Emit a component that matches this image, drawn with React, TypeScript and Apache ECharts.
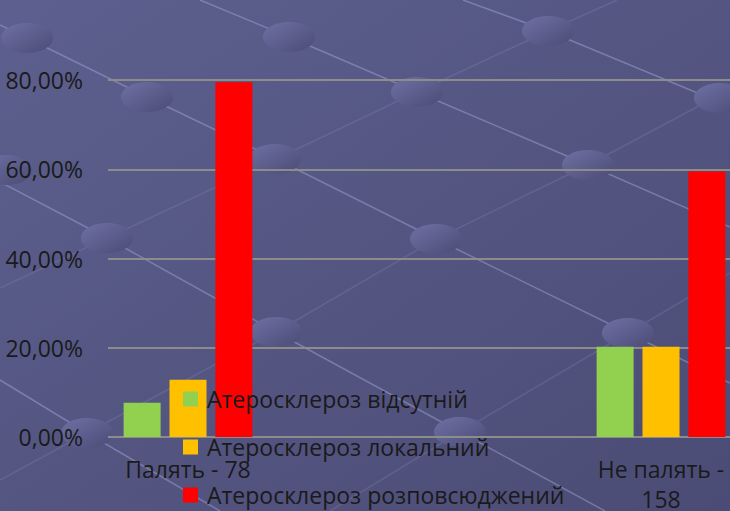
import React, { useEffect, useRef } from "react";
import * as echarts from "echarts";

const categories = ["Палять - 78", "Не палять -\n158"];
const seriesNames = [
  "Атеросклероз відсутній",
  "Атеросклероз локальний",
  "Атеросклероз розповсюджений",
];
const absentValues = [7.69, 20.25];
const localValues = [12.82, 20.25];
const widespreadValues = [79.49, 59.49];
const seriesColors = ["#92d050", "#ffc000", "#ff0000"];
const yMin = 0;
const yMax = 80;
const yStep = 20;

const FONT = "'Open Sans', 'Noto Sans', sans-serif";

const ellipseCenters: [number, number][] = [
  [27, 38], [289, 37], [548, 31],
  [147, 97], [417, 92], [720, 98],
  [6, 170], [275, 159], [588, 165],
  [107, 238], [436, 239],
  [276, 332], [628, 333],
  [87, 433], [460, 432],
];

const brightLines: number[][][] = [
  [[0, 25], [27, 38], [147, 97], [276, 159], [436, 239], [628, 333], [730, 383]],
  [[200, 0], [289, 37], [417, 92], [588, 165], [730, 227]],
  [[463, 0], [548, 31], [712, 99], [730, 106]],
  [[0, 182], [107, 238], [276, 332], [460, 432], [605, 511]],
  [[0, 380], [87, 433], [220, 511]],
];
const faintLines: number[][][] = [
  [[0, 480], [87, 433], [276, 332], [436, 239], [588, 165], [712, 99], [730, 90]],
  [[330, 511], [460, 432], [628, 333], [730, 273]],
  [[0, 288], [107, 238], [276, 159], [417, 92], [548, 31], [617, 0]],
];

export default function App() {
  const ref = useRef<HTMLDivElement>(null);
  useEffect(() => {
    if (!ref.current) return;
    const chart = echarts.init(ref.current, undefined, { renderer: "svg" });

    const graphics: any[] = [];
    brightLines.forEach((pts) =>
      graphics.push({
        type: "polyline",
        z: -10,
        silent: true,
        shape: { points: pts },
        style: { stroke: "rgba(175,178,225,0.42)", lineWidth: 1.5, fill: null },
      })
    );
    faintLines.forEach((pts) =>
      graphics.push({
        type: "polyline",
        z: -10,
        silent: true,
        shape: { points: pts },
        style: { stroke: "rgba(150,152,205,0.22)", lineWidth: 1.5, fill: null },
      })
    );
    ellipseCenters.forEach(([cx, cy]) =>
      graphics.push({
        type: "ellipse",
        z: -9,
        silent: true,
        shape: { cx, cy, rx: 26, ry: 15 },
        style: {
          fill: new echarts.graphic.LinearGradient(0, 0, 1, 1, [
            { offset: 0, color: "#6f71a4" },
            { offset: 1, color: "#4a4b75" },
          ]),
        },
      })
    );

    const barSeries = [absentValues, localValues, widespreadValues].map((vals, i) => ({
      name: seriesNames[i],
      type: "bar",
      xAxisIndex: 1,
      yAxisIndex: 1,
      data: vals,
      barWidth: 37,
      barGap: "24%",
      itemStyle: { color: seriesColors[i] },
    }));

    chart.setOption({
      animation: false,
      backgroundColor: new echarts.graphic.LinearGradient(0, 0, 1, 1, [
        { offset: 0, color: "#5d5f8e" },
        { offset: 1, color: "#4b4c75" },
      ]),
      graphic: graphics,
      grid: [
        { left: 108, right: 0, top: 80, bottom: 74, containLabel: false, outerBoundsMode: "none" },
        { left: -48.5, width: 946, top: 80, bottom: 74, containLabel: false, outerBoundsMode: "none" },
      ],
      xAxis: [
        { type: "category", gridIndex: 0, data: categories, show: false },
        {
          type: "category",
          gridIndex: 1,
          data: categories,
          axisLine: { show: false },
          axisTick: { show: false },
          axisLabel: {
            margin: 17,
            fontSize: 23,
            lineHeight: 30,
            color: "#1a1a1a",
            fontFamily: FONT,
          },
        },
      ],
      yAxis: [
        {
          type: "value",
          gridIndex: 0,
          min: yMin,
          max: yMax,
          interval: yStep,
          axisLine: { show: false },
          axisTick: { show: false },
          splitLine: { lineStyle: { color: "#8d8c8a", width: 2 } },
          axisLabel: {
            margin: 25,
            fontSize: 23,
            color: "#1a1a1a",
            fontFamily: FONT,
            formatter: (v: number) => v.toFixed(2).replace(".", ",") + "%",
          },
        },
        {
          type: "value",
          gridIndex: 1,
          min: yMin,
          max: yMax,
          interval: yStep,
          show: false,
          splitLine: { show: false },
        },
      ],
      legend: {
        orient: "vertical",
        left: 183,
        top: 387,
        padding: 0,
        icon: "rect",
        itemWidth: 15,
        itemHeight: 15,
        itemGap: 24,
        z: 10,
        data: seriesNames,
        textStyle: {
          fontSize: 23,
          lineHeight: 24,
          color: "#1a1a1a",
          fontFamily: FONT,
          padding: [0, 0, 0, 4],
        },
      },
      series: barSeries,
    });
    return () => chart.dispose();
  }, []);
  return (
    <div
      ref={ref}
      style={{ position: "fixed", left: 0, top: 0, width: 730, height: 511 }}
    />
  );
}
